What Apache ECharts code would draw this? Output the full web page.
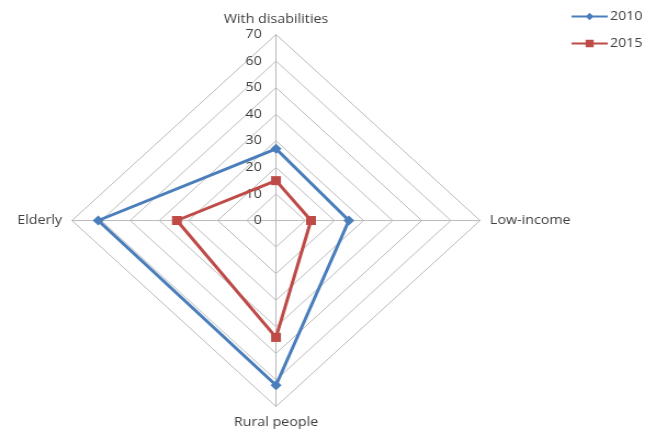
<!DOCTYPE html>
<html>
<head>
<meta charset="utf-8">
<script src="https://cdn.jsdelivr.net/npm/echarts@6/dist/echarts.min.js"></script>
<style>
html,body{margin:0;padding:0;background:#fff;overflow:hidden;}
#wrap{width:657px;height:432px;overflow:hidden;}
#chart{width:599px;height:432px;transform:scaleX(1.097);transform-origin:0 0;}
</style>
</head>
<body>
<div id="wrap"><div id="chart"></div></div>
<script>
// Categories listed counter-clockwise from the top (ECharts radar order)
const indicators = ['With disabilities', 'Elderly', 'Rural people', 'Low-income'];
const seriesNames = ['2010', '2015'];
const values2010 = [27, 61, 62, 25];
const values2015 = [15, 34, 44, 12];
const axisMax = 70;

const chart = echarts.init(document.getElementById('chart'), null, {renderer: 'canvas'});
const font = '"Open Sans", "DejaVu Sans", sans-serif';
const blue = '#4a7ebb';
const red = '#be4b48';

chart.setOption({
  animation: false,
  backgroundColor: '#fff',
  legend: {
    orient: 'vertical',
    left: 516,
    top: 5,
    itemGap: 14,
    itemWidth: 33,
    itemHeight: 9,
    textStyle: {fontFamily: font, fontSize: 13, color: '#404040', padding: [0, 0, 0, -3]},
    data: [
      {name: seriesNames[0], icon: 'path://M0,3.3H36V5.7H0Z M18,0.5L22,4.5L18,8.5L14,4.5Z'},
      {name: seriesNames[1], icon: 'path://M0,3.3H36V5.7H0Z M14,0.5H22V8.5H14Z'}
    ]
  },
  radar: {
    center: [251.6, 220.5],
    radius: 186,
    startAngle: 90,
    shape: 'polygon',
    splitNumber: 7,
    nameGap: 9,
    axisName: {fontFamily: font, fontSize: 13, color: '#404040'},
    splitLine: {lineStyle: {color: '#bcbcbc', width: 1}},
    splitArea: {show: false},
    axisLine: {lineStyle: {color: '#bcbcbc', width: 1}},
    axisLabel: {show: false},
    indicator: indicators.map((n, i) => {
      const o = {name: n, min: 0, max: axisMax};
      if (i === 0) {
        o.axisLabel = {show: true, showMinLabel: true, fontFamily: font, fontSize: 13, color: '#404040', margin: 13};
      }
      return o;
    })
  },
  series: [{
    type: 'radar',
    data: [
      {name: seriesNames[0], value: values2010, symbol: 'diamond', symbolSize: 10,
       lineStyle: {color: blue, width: 3}, itemStyle: {color: blue}},
      {name: seriesNames[1], value: values2015, symbol: 'rect', symbolSize: 9,
       lineStyle: {color: red, width: 3}, itemStyle: {color: red}}
    ]
  }]
});
</script>
</body>
</html>
